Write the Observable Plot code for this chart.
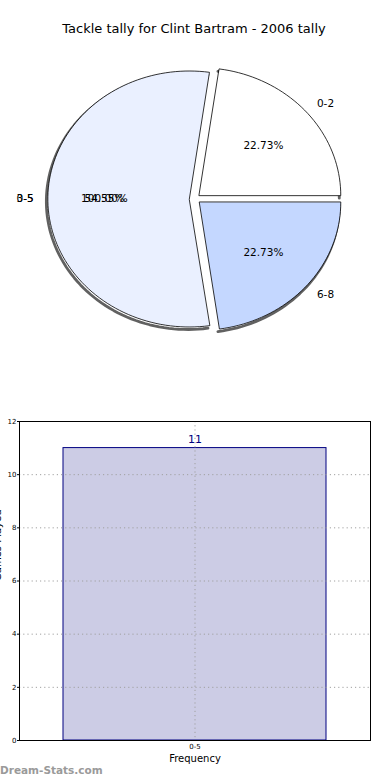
<!DOCTYPE html>
<html>
<head>
<meta charset="utf-8">
<script src="https://cdn.jsdelivr.net/npm/d3@7"></script>
<script src="https://cdn.jsdelivr.net/npm/@observablehq/plot@0.6"></script>
<style>
  html, body { margin: 0; padding: 0; background: #fff; }
  #wrap { position: relative; width: 390px; height: 780px; overflow: hidden; font-family: "DejaVu Sans", sans-serif; }
  #title { position: absolute; top: 21px; left: 0; width: 388px; text-align: center; font-size: 13px; color: #000; }
  #pie { position: absolute; top: 0; left: 0; }
  #bar { position: absolute; top: 400px; left: 0; }
  #mark { position: absolute; left: 0; top: 764px; font-size: 10.5px; font-weight: bold; color: #9a9a9a; }
</style>
</head>
<body>
<div id="wrap">
  <div id="pie"></div>
  <div id="bar"></div>
  <div id="title">Tackle tally for Clint Bartram - 2006 tally</div>
  <div id="mark">Dream-Stats.com</div>
</div>
<script>
// ---- data ----
const title = "Tackle tally for Clint Bartram - 2006 tally";
const pieLabels = ["0-2", "3-5", "6-8"];
const pieValues = [5, 12, 5];
const overlayLabels = ["0-5"];
const overlayValues = [22];
const barCategories = ["0-5"];
const barValues = [11];
const yTicks = [0, 2, 4, 6, 8, 10, 12];
const xLabel = "Frequency";
const yLabel = "Games Played";

// ---- styles ----
const pieColors = ["#ffffff", "#eaf0ff", "#c4d7ff"];
const explode = 0.04;

function buildPie(labels, values) {
  const total = d3.sum(values);
  let cum = 0;
  return labels.map((label, i) => {
    const a0 = cum / total * 2 * Math.PI;
    cum += values[i];
    const a1 = cum / total * 2 * Math.PI;
    const mid = (a0 + a1) / 2;
    const ox = explode * Math.cos(mid), oy = explode * Math.sin(mid);
    const n = Math.max(2, Math.ceil((a1 - a0) / (2 * Math.PI) * 180));
    const arc = d3.range(n + 1).map(k => {
      const a = a0 + (a1 - a0) * k / n;
      return {x: ox + Math.cos(a), y: oy + Math.sin(a)};
    });
    const pts = [{x: ox, y: oy}, ...arc];
    return {
      label, value: values[i], i,
      pct: (values[i] / total * 100).toFixed(2) + "%",
      arc, pts,
      lx: ox + 1.1 * Math.cos(mid), ly: oy + 1.1 * Math.sin(mid),
      px: ox + 0.6 * Math.cos(mid), py: oy + 0.6 * Math.sin(mid)
    };
  });
}

const slices = buildPie(pieLabels, pieValues);
const overlay = buildPie(overlayLabels, overlayValues);
const allLabels = [...slices, ...overlay];

const cx = 194.5, cy = 198.5, rx = 141.5, ry = 128;

const pie = Plot.plot({
  width: 390, height: 400,
  margin: 0,
  style: {fontFamily: "DejaVu Sans", fontSize: "10.5px", background: "transparent"},
  x: {domain: [-1, 1], range: [cx - rx, cx + rx], axis: null},
  y: {domain: [-1, 1], range: [cy + ry, cy - ry], axis: null},
  marks: [
    ...slices.map(s => Plot.line(s.arc, {x: "x", y: "y", stroke: "#3a3a3a", strokeWidth: 2.8, strokeOpacity: 0.8, dx: -1.5, dy: 2.5})),
    ...slices.map(s => Plot.line(s.pts, {x: "x", y: "y", curve: "linear-closed", fill: pieColors[s.i], stroke: "#000", strokeWidth: 0.8})),
    Plot.text(allLabels.filter(d => d.lx >= 0), {x: "lx", y: "ly", text: "label", textAnchor: "start", fill: "#000"}),
    Plot.text(allLabels.filter(d => d.lx < 0), {x: "lx", y: "ly", text: "label", textAnchor: "end", fill: "#000"}),
    Plot.text(allLabels, {x: "px", y: "py", text: "pct", fill: "#000"})
  ]
});
document.getElementById("pie").appendChild(pie);

const barData = barCategories.map((c, i) => ({cat: c, value: barValues[i]}));

const bar = Plot.plot({
  width: 390, height: 380,
  marginLeft: 19, marginRight: 20, marginTop: 21, marginBottom: 40,
  style: {fontFamily: "DejaVu Sans", fontSize: "7px", background: "transparent", overflow: "visible"},
  x: {type: "band", domain: barCategories, paddingInner: 0, paddingOuter: 0.165},
  y: {domain: [0, 12]},
  marks: [
    Plot.barY(barData, {x: "cat", y: "value", fill: "#ccccE5", stroke: "#000080", strokeWidth: 1}),
    Plot.gridY({ticks: yTicks.filter(v => v > 0 && v < 12), stroke: "#a0a0a0", strokeOpacity: 1, strokeDasharray: "1.2,3"}),
    Plot.gridX({stroke: "#a0a0a0", strokeOpacity: 1, strokeDasharray: "1.2,3"}),
    Plot.frame({stroke: "#000", strokeWidth: 1}),
    Plot.axisY({ticks: yTicks, tickSize: 2, tickPadding: 1, fontSize: 7, label: null}),
    Plot.axisX({tickSize: 0, tickPadding: 4, fontSize: 7, label: null}),
    Plot.text(barData, {x: "cat", y: "value", text: d => String(d.value), dy: -9, fill: "#000080", fontSize: 11}),
    Plot.text([xLabel], {frameAnchor: "bottom", dy: 21, fontSize: 10, fill: "#000"}),
    Plot.text([yLabel], {frameAnchor: "left", rotate: -90, dx: -21.5, fontSize: 10, fill: "#000"})
  ]
});
document.getElementById("bar").appendChild(bar);
</script>
</body>
</html>
